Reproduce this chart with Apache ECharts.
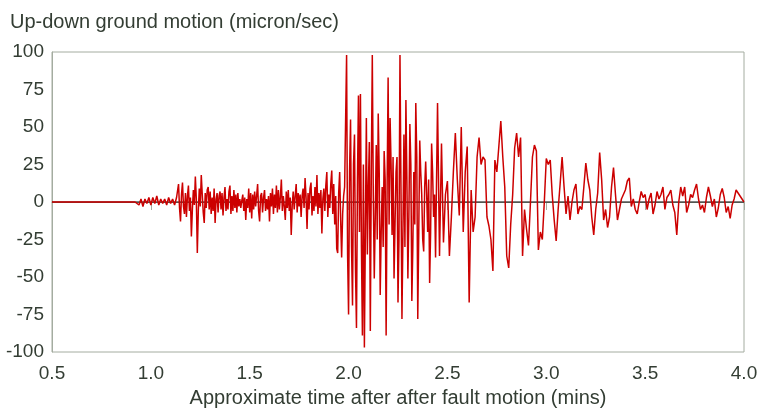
<!DOCTYPE html>
<html>
<head>
<meta charset="utf-8">
<script src="https://cdn.jsdelivr.net/npm/echarts@6/dist/echarts.min.js"></script>
<style>
  html, body { margin: 0; padding: 0; background: #fff; }
  #chart { width: 761px; height: 412px; }
</style>
</head>
<body>
<div id="chart"></div>
<script>
// seismogram samples, each segment has its own start and spacing (mins)

// before the first arrivals: flat
var quietStart = 0.5, quietStep = 0.01;
var quietValues = [0,0,0,0,0,0,0,0,0,0, 0,0,0,0,0,0,0,0,0,0,
                   0,0,0,0,0,0,0,0,0,0, 0,0,0,0,0,0,0,0,0,0, 0,0,0];

// faint wobble
var noiseStart = 0.93, noiseStep = 0.01;
var noiseValues = [1,-2,2,-3,2,-1,3,-2,3,-1,4,-2,2,-1,2,-2,3,-1,2,-2,3];

// first arrivals, up to the big shaking (dense, half step)
var earlyStart = 1.14, earlyStep = 0.005;
var earlyValues = [
  12,-4,-13,5,13,-3,-8,6,-10,4,
  11,-6,3,-23,-5,8,-2,17,2,-34,
  -6,9,-3,18,5,-7,-14,6,-4,8,
  10,-5,7,-8,3,-6,9,-14,2,6,
  -7,4,7,-5,6,-9,3,10,-6,2,
  -5,7,11,-8,4,-6,8,-4,5,-7,
  6,-3,2,-4,1,5,-6,3,-12,2,
  -4,9,-7,6,-11,5,-5,7,-3,4,
  12,-6,-13,4,6,-7,3,8,-6,2,
  -5,4,-13,6,-3,9,-8,5,-4,11,
  -7,8,-5,3,15,-6,4,-3,-12,7,
  -4,8,-6,3,-22,-2,7,-5,4,12,
  -7,6,-3,5,-10,4,9,-4,16,3,
  -18,6,-5,9,13,-9,4,-6,10,-3,
  18,-8,6,-4,8,-21,2,9,-6,11,
  20,-10,5,-4,12,21,-8,12,-15,4,
  -31,-34,6,20,-12,-37,-8,4,10
];

// main shaking (half step)
var mainStart = 1.99, mainStep = 0.005;
var mainValues = [
  98,-35,-75,20,55,-30,-69,25,45,-45,
  -84,15,71,-20,72,-30,-89,25,-97,-20,
  56,-35,10,40,-86,20,98,5,-51,-10,
  38,-25,59,20,-62,-20,10,-30,34,15,
  -89,10,83,-15,56,25,-22,30,-51,-15,
  20,30,-67,-25,98,10,-78,-20,45,-30,
  68,15,-51,-10,52,25,-66,-30,20,-15,
  66,30,-78,-20,41,20,5,-25,-33,10,
  27,5,-20,15,-54,-20,39,20,-10,5,
  -37
];

// later swings
var lateStart = 2.45, lateStep = 0.01;
var lateValues = [
  66,-36,39,-27,
  5,14,-36,-10,20,46,15,-9,50,-20,
  20,37,-67,8,-20,-10,30,43,25,30,
  28,-10,-16,-25,-46,28,20,37,54,30,
  10,-36,-44,-15,5,36,46,30,43,-36,
  -5,-18,-29,0,30,38,34,-32,-20,-25,
  0
];

// dying away
var codaStart = 3.0, codaStep = 0.01;
var codaValues = [
  29,25,28,5,-12,-26,-5,12,30,10,
  -8,4,-12,0,8,12,-8,-3,-5,10,
  26,15,8,-10,-22,-5,6,33,15,-12,
  -5,-17,-10,10,23,5,-12,-5,2,5,
  8,14,16,-3,2,-5,-8,0,7,3,
  5,-5,2,6,-8,-2,7,2,5,10,
  -5,3,5,8,-2,-7,-22,0,10,4,
  10,-7,-2,5,3,8,12,2,-5,-2,
  -7,3,10,4,-3,2,-10,-4,5,9,
  3,-7,-3,-11,-2,2,8,6,5,2,
  0
];

// black reference line at zero
var zeroLine = [[0.5, 0], [4.0, 0]];

var xTicks = ['0.5','1.0','1.5','2.0','2.5','3.0','3.5','4.0'];
var yTicks = ['-100','-75','-50','-25','0','25','50','75','100'];

function addSegment(out, start, step, vals) {
  for (var i = 0; i < vals.length; i++) {
    out.push([+(start + i * step).toFixed(3), vals[i]]);
  }
}

var points = [];
addSegment(points, quietStart, quietStep, quietValues);
addSegment(points, noiseStart, noiseStep, noiseValues);
addSegment(points, earlyStart, earlyStep, earlyValues);
addSegment(points, mainStart, mainStep, mainValues);
addSegment(points, lateStart, lateStep, lateValues);
addSegment(points, codaStart, codaStep, codaValues);

var textColor = '#333d33';
var frameColor = '#a4aca0';
var font = 'Liberation Sans';

var myChart = echarts.init(document.getElementById('chart'));
var option = {
  animation: false,
  title: {
    text: 'Up-down ground motion (micron/sec)',
    left: 5,
    top: 7,
    textStyle: { fontFamily: font, fontSize: 20, fontWeight: 'normal', color: textColor }
  },
  grid: {
    left: 52, right: 17, top: 52, bottom: 60,
    outerBoundsMode: 'none',
    containLabel: false,
    show: true, borderColor: frameColor, borderWidth: 1, backgroundColor: 'transparent'
  },
  xAxis: {
    type: 'value',
    min: 0.5, max: 4.0, interval: 0.5,
    name: 'Approximate time after after fault motion (mins)',
    nameLocation: 'middle',
    nameGap: 36,
    nameTextStyle: { fontFamily: font, fontSize: 20, color: textColor },
    axisLine: { show: true, lineStyle: { color: frameColor } },
    axisTick: { show: true, inside: false, length: 8, lineStyle: { color: frameColor } },
    axisLabel: {
      margin: 12,
      fontFamily: font, fontSize: 19, color: textColor,
      formatter: function (v) { return xTicks[Math.round((v - 0.5) / 0.5)]; }
    },
    splitLine: { show: false }
  },
  yAxis: {
    type: 'value',
    min: -100, max: 100, interval: 25,
    axisLine: { show: true, lineStyle: { color: frameColor } },
    axisTick: { show: false },
    axisLabel: {
      margin: 8,
      fontFamily: font, fontSize: 19, color: textColor,
      formatter: function (v) { return yTicks[Math.round((v + 100) / 25)]; }
    },
    splitLine: { show: false }
  },
  series: [
    {
      type: 'line',
      data: zeroLine,
      z: 1,
      silent: true,
      symbol: 'none',
      lineStyle: { color: '#000', width: 1 }
    },
    {
      type: 'line',
      data: points,
      z: 2,
      showSymbol: false,
      symbol: 'none',
      lineStyle: { color: '#cc0000', width: 1.5 }
    }
  ]
};
myChart.setOption(option);
</script>
</body>
</html>
